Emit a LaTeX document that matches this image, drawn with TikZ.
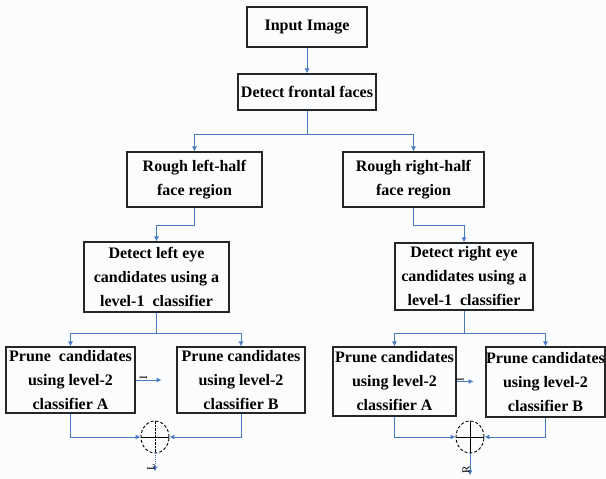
\documentclass[tikz,border=0pt]{standalone}
\usepackage{fontspec}
\setmainfont{Liberation Serif}
\usetikzlibrary{arrows.meta,shapes.geometric}
\definecolor{linkblue}{RGB}{72,124,194}
\definecolor{paper}{RGB}{250,252,254}
\begin{document}
\begin{tikzpicture}[
        x=1pt, y=-1pt,
        box/.style={draw=black!85, line width=1.1pt, align=center, inner sep=0pt,
            font=\bfseries\fontsize{16}{24}\selectfont},
        link/.style={draw=linkblue, line width=1pt, -{Latex[length=5pt,width=5pt]}},
        sum/.style={draw, line width=0.9pt, dash pattern=on 3pt off 2pt, ellipse,
            minimum width=28pt, minimum height=32pt, inner sep=0pt},
        tag/.style={font=\fontsize{11}{11}\selectfont, rotate=90, inner sep=1pt},
    ]
    \fill[paper] (0,0) rectangle (606,479);
    \useasboundingbox (0,0) rectangle (606,479);

    \node[box, minimum width=120pt, minimum height=40pt](input) at (307,27){Input Image};
    \node[box, minimum width=138pt, minimum height=36pt](frontal) at (307,92){Detect frontal faces};
    \node[box, minimum width=135pt, minimum height=55pt](lhalf) at (194.5,179.5){Rough left-half\\face region};
    \node[box, minimum width=141pt, minimum height=55pt](rhalf) at (413.5,179.5){Rough right-half\\face region};
    \node[box, minimum width=145pt, minimum height=70pt](leye) at (156.5,277){Detect left eye\\candidates using a\\level-1\ \ classifier};
    \node[box, minimum width=138pt, minimum height=67pt](reye) at (464,276.5){Detect right eye\\candidates using a\\level-1\ \ classifier};
    \node[box, minimum width=129pt, minimum height=66pt](la) at (70.5,380){Prune\ \ candidates\\using level-2\\classifier A};
    \node[box, minimum width=128pt, minimum height=66pt](lb) at (241,380){Prune candidates\\using level-2\\classifier B};
    \node[box, minimum width=123pt, minimum height=69pt](ra) at (394.5,381.5){Prune candidates\\using level-2\\classifier A};
    \node[box, minimum width=119pt, minimum height=70pt](rb) at (545.5,382){Prune candidates\\using level-2\\classifier B};
    \node[sum](lsum) at (155,437){};
    \node[sum](rsum) at (470,437){};

    % top part
    \draw[link] (input) -- (frontal);
    \draw[link] (frontal.south) -- ++(0,24) -| (lhalf);
    \draw[link] (frontal.south) -- ++(0,24) -| (rhalf);
    \draw[link] (lhalf.south) -- ++(0,18) -| (leye);
    \draw[link] (rhalf.south) -- ++(0,18) -| (reye);

    % left eye
    \draw[link] (leye.south) -- ++(0,21) -| (la);
    \draw[link] (leye.south) -- ++(0,21) -| (lb);
    \draw[link] (la.east) -- ++(26,0) node[midway, above=2pt, tag]{I};
    \draw[link] (la.south) |- (lsum.west);
    \draw[link] (lb.south) |- (lsum.east);
    \draw[line width=0.9pt] (lsum.west) -- (lsum.east);
    \draw[densely dotted] (lsum.north) -- (lsum.south);
    \draw[link, densely dotted] (lsum.south) -- ++(0,18) node[midway, left=4pt, tag]{L};

    % right eye
    \draw[link] (reye.south) -- ++(0,23) -| (ra);
    \draw[link] (reye.south) -- ++(0,23) -| (rb);
    \draw[link] (ra.east) -- ++(17,0) node[midway, above=2pt, tag]{I};
    \draw[link] (ra.south) |- (rsum.west);
    \draw[link] (rb.south) |- (rsum.east);
    \draw[line width=0.9pt] (rsum.west) -- (rsum.east);
    \draw[line width=0.9pt] (rsum.north) -- (rsum.south);
    \draw[link] (rsum.south) -- ++(0,22) node[midway, left=4pt, tag]{R};
\end{tikzpicture}
\end{document}
